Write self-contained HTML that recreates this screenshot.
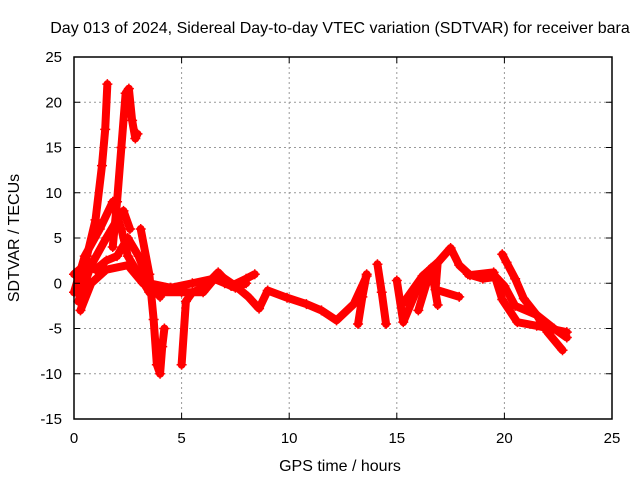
<!DOCTYPE html>
<html><head><meta charset="utf-8"><style>
body{margin:0;background:#fff;}
svg{display:block;font-family:"Liberation Sans",Arial,sans-serif;}
</style></head><body>
<svg id="chart" width="640" height="480">
<text x="340" y="33" text-anchor="middle" font-size="16">Day 013 of 2024, Sidereal Day-to-day VTEC variation (SDTVAR) for receiver bara</text>
<text x="340" y="471" text-anchor="middle" font-size="16">GPS time / hours</text>
<text transform="translate(19,238) rotate(-90)" text-anchor="middle" font-size="16">SDTVAR / TECUs</text>
<g id="grid"></g><g id="series"></g><g id="axes"></g>
</svg>
<script>
const xTicks=[0,5,10,15,20,25];
const yTicks=[-15,-10,-5,0,5,10,15,20,25];
const trackA_h=[0.1,0.3,0.6,1.0,1.3,1.45,1.55];
const trackA_v=[-1,0,3,7,13,17,22];
const trackB_h=[1.8,2.0,2.2,2.4,2.55,2.7,2.85,2.95];
const trackB_v=[4,9,15,21,21.5,18,16,16.5];
const trackC_h=[0,0.5,1.2,1.8,2.2,2.5,3.0,3.5,4.0];
const trackC_v=[-1,3,6,9,6,3,1,-1,-1];
const trackD_h=[3.1,3.5,3.7,3.85,4.0,4.1,4.2];
const trackD_v=[6,1,-4,-9,-10,-7,-5];
const trackE_h=[5.0,5.2,5.5,6.0,6.7,7.3,8.0,8.4];
const trackE_v=[-9,-2,-1,-0.5,1.2,-0.3,0.5,1];
const trackF_h=[0.3,0.8,1.5,2.5,3.2,3.8,5.0,6.0,6.7,7.5,8.1,8.6,9.0,9.9,10.8,11.5,12.2,13.0,13.6];
const trackF_v=[-3,0,1.5,2,0,-1,-1,-1,1,-0.3,-1.5,-2.8,-0.8,-1.6,-2.3,-3,-4.1,-2.3,0.8];
const trackG_h=[13.2,13.4,13.6];
const trackG_v=[-4.5,-1.5,1];
const trackH_h=[14.1,14.3,14.5];
const trackH_v=[2.1,-1,-4.5];
const trackI_h=[15.0,15.3,16.2,16.8,17.5,17.9,18.4,19.5,19.9,20.6,21.5,22.9];
const trackI_v=[0.3,-4.3,0.8,2,3.9,2,0.9,1.2,-1.8,-4.3,-4.7,-5.4];
const trackJ_h=[19.9,20.1,20.5,20.9,21.5,22.0,22.7];
const trackJ_v=[3.2,2.3,0.5,-1.7,-3.5,-5.4,-7.4];
const trackK_h=[15.3,16.2,16.9,16.8,17.9];
const trackK_v=[-2.2,0.8,2.3,-0.7,-1.5];
const trackL_h=[16.0,16.6,16.9];
const trackL_v=[-3,1.7,-2.4];
const trackM_h=[0,0.5,1.0,1.5,2.0,2.5,3.0,3.5,4.0];
const trackM_v=[1,2,1.5,2.5,3,5,3,0,-1.5];
const trackN_h=[0.2,0.8,1.5,2.0,2.3,2.6];
const trackN_v=[-2,2,5,7,8,6];
const trackO_h=[3.5,4.5,5.5,6.5,7.0,7.5,8.0];
const trackO_v=[0,-0.5,0,0.5,0,-0.5,0];
const trackP_h=[18.3,19.0,19.6,20.0,20.5,21.5,22.3,22.9];
const trackP_v=[1.0,0.5,0.7,-0.3,-2.5,-3.5,-5.0,-6.0];
const tracks=[[trackA_h,trackA_v],[trackB_h,trackB_v],[trackC_h,trackC_v],[trackD_h,trackD_v],[trackE_h,trackE_v],[trackF_h,trackF_v],[trackG_h,trackG_v],[trackH_h,trackH_v],[trackI_h,trackI_v],[trackJ_h,trackJ_v],[trackK_h,trackK_v],[trackL_h,trackL_v],[trackM_h,trackM_v],[trackN_h,trackN_v],[trackO_h,trackO_v],[trackP_h,trackP_v]];

const L=74,R=612,T=57,B=419;
const xs=h=>L+(h-0)/25*(R-L);
const ys=v=>B-(v+15)/40*(B-T);
const NS="http://www.w3.org/2000/svg";
function mk(tag,attrs,parent){const e=document.createElementNS(NS,tag);for(const k in attrs)e.setAttribute(k,attrs[k]);parent.appendChild(e);return e;}
const grid=document.getElementById('grid'),axes=document.getElementById('axes'),ser=document.getElementById('series');
xTicks.forEach(t=>{
  if(t>0&&t<25){const g=mk('line',{x1:xs(t),x2:xs(t),y1:T,y2:B,stroke:'#999','stroke-dasharray':'2,3'},grid);
  
  }
  mk('line',{x1:xs(t),x2:xs(t),y1:B,y2:B-6,stroke:'#000'},axes);
  mk('line',{x1:xs(t),x2:xs(t),y1:T,y2:T+6,stroke:'#000'},axes);
  const tx=mk('text',{x:xs(t),y:B+24,'text-anchor':'middle','font-size':'15'},axes);tx.textContent=t;
  
  
});
yTicks.forEach(t=>{
  if(t>-15&&t<25){const g=mk('line',{x1:L,x2:R,y1:ys(t),y2:ys(t),stroke:'#999','stroke-dasharray':'2,3'},grid);
  
  }
  mk('line',{x1:L,x2:L+6,y1:ys(t),y2:ys(t),stroke:'#000'},axes);
  mk('line',{x1:R,x2:R-6,y1:ys(t),y2:ys(t),stroke:'#000'},axes);
  const tx=mk('text',{x:L-12,y:ys(t)+5,'text-anchor':'end','font-size':'15'},axes);tx.textContent=t;
  
  
});
const fr=mk('rect',{x:L,y:T,width:R-L,height:B-T,fill:'none',stroke:'#000','stroke-width':1.5},axes);


tracks.forEach(([hs,vs])=>{
  const pts=hs.map((h,i)=>xs(h)+','+ys(vs[i])).join(' ');
  const p=mk('polyline',{points:pts,fill:'none',stroke:'#f00','stroke-width':8,'stroke-linejoin':'round','stroke-linecap':'round'},ser);
  
  
  hs.forEach((h,i)=>{
    const m=mk('path',{d:`M${xs(h)-5},${ys(vs[i])}h10M${xs(h)},${ys(vs[i])-5}v10`,stroke:'#f00','stroke-width':1.5},ser);
    
    
  });
});
</script>
</body></html>
